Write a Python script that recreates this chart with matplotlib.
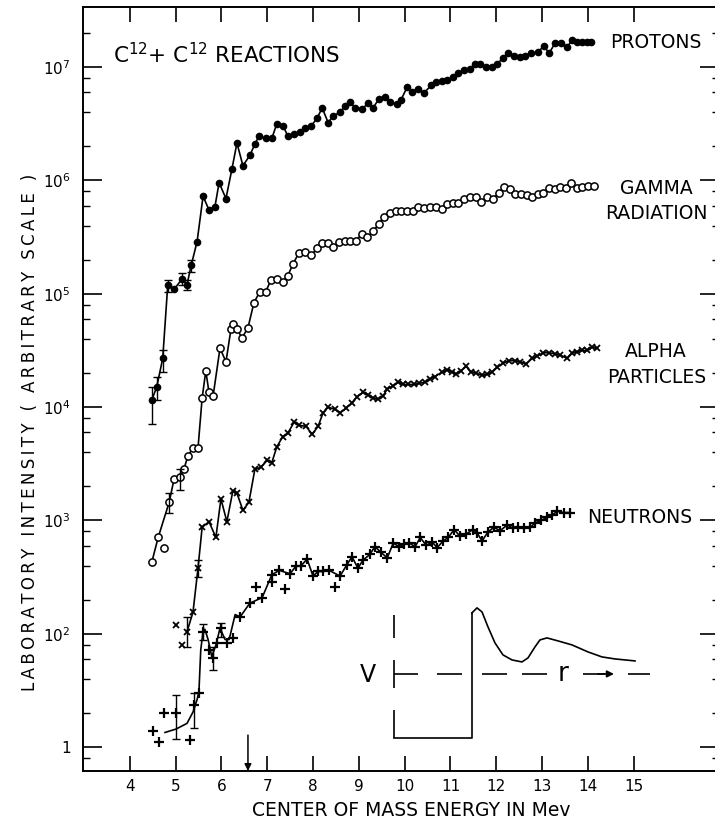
import numpy as np
import matplotlib.pyplot as plt
from matplotlib.ticker import LogLocator, FixedLocator, FixedFormatter, NullFormatter

plt.rcParams['font.family'] = ['DejaVu Sans']
plt.rcParams['mathtext.default'] = 'regular'

# centre of mass energy (MeV) and log10 of the laboratory intensity
protons_e = [4.48, 4.59, 4.72, 4.83, 4.97, 5.14, 5.25, 5.34, 5.47, 5.60, 5.73, 5.86, 5.95, 6.10,
             6.23, 6.34, 6.47, 6.62, 6.73, 6.82, 6.97, 7.10, 7.21, 7.35, 7.45, 7.59, 7.72, 7.83,
             7.96, 8.09, 8.20, 8.33, 8.44, 8.59, 8.70, 8.81, 8.92, 9.07, 9.20, 9.31, 9.44, 9.57,
             9.68, 9.83, 9.92, 10.05, 10.16, 10.29, 10.42, 10.58, 10.69, 10.82, 10.93, 11.06,
             11.17, 11.30, 11.43, 11.54, 11.65, 11.78, 11.91, 12.02, 12.15, 12.26, 12.39, 12.52,
             12.63, 12.76, 12.91, 13.04, 13.15, 13.28, 13.41, 13.55, 13.66, 13.76, 13.87, 13.98, 14.07]
protons_log = [4.06, 4.18, 4.43, 5.08, 5.04, 5.13, 5.08, 5.25, 5.46, 5.86, 5.74, 5.77, 5.98, 5.84,
               6.10, 6.33, 6.13, 6.22, 6.32, 6.39, 6.37, 6.37, 6.50, 6.48, 6.39, 6.41, 6.43, 6.46,
               6.48, 6.55, 6.64, 6.51, 6.57, 6.60, 6.66, 6.69, 6.64, 6.63, 6.68, 6.64, 6.72, 6.74,
               6.69, 6.67, 6.71, 6.82, 6.78, 6.81, 6.77, 6.84, 6.87, 6.88, 6.89, 6.91,
               6.95, 6.97, 6.98, 7.03, 7.03, 7.00, 7.00, 7.03, 7.08, 7.12, 7.10, 7.09,
               7.10, 7.12, 7.13, 7.19, 7.12, 7.21, 7.21, 7.18, 7.24, 7.22, 7.22, 7.22, 7.22]
protons_err_e = [4.48, 4.59, 4.72, 4.83, 5.14, 5.25, 5.34]
protons_err_lo = [3.85, 4.06, 4.31, 5.02, 5.08, 5.03, 5.19]
protons_err_hi = [4.18, 4.27, 4.50, 5.12, 5.18, 5.12, 5.30]

gamma_e = [4.48, 4.62, 4.75, 4.86, 4.97, 5.10, 5.18, 5.27, 5.38, 5.49, 5.58, 5.66, 5.73, 5.82,
           5.97, 6.10, 6.21, 6.25, 6.34, 6.45, 6.58, 6.71, 6.84, 6.97, 7.08, 7.21, 7.34, 7.45,
           7.56, 7.69, 7.83, 7.96, 8.09, 8.20, 8.33, 8.44, 8.57, 8.70, 8.81, 8.94, 9.07, 9.18,
           9.31, 9.44, 9.55, 9.68, 9.81, 9.92, 10.05, 10.18, 10.29, 10.42, 10.55, 10.69, 10.82,
           10.93, 11.06, 11.17, 11.30, 11.43, 11.56, 11.67, 11.80, 11.93, 12.06, 12.17, 12.30,
           12.41, 12.54, 12.67, 12.78, 12.91, 13.02, 13.15, 13.28, 13.39, 13.52, 13.63, 13.76,
           13.87, 14.00, 14.14]
gamma_log = [2.63, 2.85, 2.76, 3.16, 3.37, 3.38, 3.45, 3.57, 3.64, 3.64, 4.08, 4.32, 4.13, 4.10,
             4.52, 4.40, 4.69, 4.73, 4.69, 4.61, 4.70, 4.92, 5.02, 5.02, 5.12, 5.13, 5.10, 5.16,
             5.26, 5.36, 5.37, 5.34, 5.40, 5.45, 5.45, 5.41, 5.46, 5.47, 5.47, 5.47, 5.53, 5.50,
             5.55, 5.62, 5.68, 5.71, 5.73, 5.73, 5.73, 5.73, 5.77, 5.76, 5.77, 5.77, 5.75,
             5.79, 5.80, 5.80, 5.84, 5.85, 5.85, 5.81, 5.85, 5.84, 5.89, 5.94, 5.92,
             5.88, 5.88, 5.87, 5.85, 5.88, 5.89, 5.93, 5.92, 5.94, 5.93, 5.98, 5.93,
             5.94, 5.95, 5.95]
gamma_skip = [2]  # points the hand-drawn line passes by
gamma_err_e = [4.86, 5.10]
gamma_err_lo = [3.07, 3.27]
gamma_err_hi = [3.24, 3.45]

alpha_e = [5.01, 5.14, 5.25, 5.38, 5.49, 5.58, 5.73, 5.88, 5.99, 6.12, 6.25, 6.34, 6.47, 6.60,
           6.73, 6.86, 7.00, 7.10, 7.21, 7.34, 7.45, 7.59, 7.69, 7.85, 7.98, 8.11, 8.22, 8.33,
           8.48, 8.59, 8.72, 8.85, 8.96, 9.09, 9.20, 9.31, 9.42, 9.53, 9.62, 9.75, 9.86, 9.97,
           10.07, 10.21, 10.31, 10.45, 10.55, 10.66, 10.82, 10.93, 11.03, 11.12, 11.23, 11.34,
           11.45, 11.56, 11.69, 11.80, 11.91, 12.02, 12.15, 12.28, 12.41, 12.52, 12.65, 12.78,
           12.89, 13.02, 13.15, 13.28, 13.39, 13.55, 13.66, 13.76, 13.87, 13.98, 14.09, 14.20]
alpha_log = [2.08, 1.90, 2.02, 2.19, 2.58, 2.94, 2.99, 2.85, 3.19, 2.99, 3.26, 3.24, 3.09, 3.16,
             3.45, 3.47, 3.53, 3.51, 3.65, 3.74, 3.77, 3.87, 3.84, 3.83, 3.76, 3.83, 3.95, 4.00,
             3.98, 3.95, 3.99, 4.04, 4.09, 4.13, 4.11, 4.08, 4.07, 4.10, 4.16, 4.19, 4.22, 4.20,
             4.20, 4.20, 4.21, 4.22, 4.25, 4.27, 4.31, 4.33, 4.31, 4.29, 4.32, 4.36,
             4.31, 4.30, 4.28, 4.29, 4.31, 4.35, 4.39, 4.41, 4.41, 4.40, 4.38, 4.43,
             4.45, 4.48, 4.48, 4.47, 4.46, 4.43, 4.48, 4.49, 4.50, 4.50, 4.53, 4.52]
alpha_skip = [0, 1]
alpha_err_e = [5.25, 5.49]
alpha_err_lo = [1.88, 2.50]
alpha_err_hi = [2.15, 2.65]

neutron_e = [4.51, 4.64, 4.75, 5.01, 5.31, 5.40, 5.51, 5.60, 5.73, 5.82, 5.90, 5.99, 6.12, 6.25,
             6.41, 6.62, 6.76, 6.89, 7.10, 7.10, 7.26, 7.39, 7.50, 7.63, 7.74, 7.87, 8.00, 8.11,
             8.22, 8.35, 8.48, 8.59, 8.74, 8.85, 8.98, 9.09, 9.24, 9.35, 9.48, 9.62, 9.75, 9.88,
             9.99, 10.10, 10.23, 10.34, 10.47, 10.60, 10.71, 10.84, 10.95, 11.08, 11.21, 11.34,
             11.49, 11.58, 11.69, 11.82, 11.95, 12.08, 12.24, 12.37, 12.48, 12.61, 12.74, 12.85,
             12.98, 13.11, 13.22, 13.33, 13.48, 13.61]
neutron_log = [1.14, 1.05, 1.30, 1.30, 1.06, 1.37, 1.48, 2.02, 1.86, 1.79, 1.92, 2.05, 1.92, 1.96,
               2.15, 2.27, 2.41, 2.32, 2.52, 2.46, 2.56, 2.40, 2.53, 2.60, 2.60, 2.66, 2.51, 2.55,
               2.55, 2.56, 2.41, 2.51, 2.61, 2.68, 2.58, 2.65, 2.70, 2.77, 2.72, 2.67, 2.80, 2.77,
               2.79, 2.80, 2.77, 2.85, 2.78, 2.81, 2.76, 2.82, 2.85, 2.92, 2.86, 2.88,
               2.92, 2.89, 2.82, 2.90, 2.94, 2.91, 2.96, 2.93, 2.94, 2.93, 2.94, 2.98,
               3.00, 3.03, 3.05, 3.08, 3.07, 3.07]
neutron_skip = [16, 19, 21, 30]
# smooth line drawn by hand through the low energy neutron points
neutron_fit_e = [4.77, 5.01, 5.25, 5.38, 5.47, 5.51, 5.55, 5.60, 5.64, 5.71, 5.79, 5.88, 5.97,
                 6.08, 6.17, 6.30, 6.41]
neutron_fit_log = [1.13, 1.16, 1.21, 1.31, 1.42, 1.49, 1.86, 2.02, 2.04, 1.95, 1.80, 1.90, 2.05,
                   1.95, 1.95, 2.17, 2.15]
neutron_err_e = [5.01, 5.40, 5.60, 5.82, 5.99]
neutron_err_lo = [1.07, 1.17, 1.95, 1.68, 1.97]
neutron_err_hi = [1.46, 1.48, 2.09, 1.88, 2.10]

arrow_e = 6.58
x_ticks = list(range(4, 16))
y_ticks = [1e1, 1e2, 1e3, 1e4, 1e5, 1e6, 1e7]
y_tick_labels = ['1', '$10^2$', '$10^3$', '$10^4$', '$10^5$', '$10^6$', '$10^7$']

# inset sketch of the potential V(r), in sketch units
well_u = [34, 112, 112]
well_v = [7, 7, 132]
barrier_u = [112, 117, 122, 128, 135, 143, 152, 162, 168, 175, 180, 187, 198, 212, 228, 242, 255, 275]
barrier_v = [132, 137, 133, 118, 102, 90, 85, 83, 87, 98, 105, 107, 104, 100, 93, 88, 86, 84]


def lin(v):
    return 10 ** np.asarray(v, dtype=float)


def keep(seq, skip):
    return [s for i, s in enumerate(seq) if i not in skip]


def spaced(s):
    # old lettering has wide letter spacing
    return '\u2009'.join(s)


fig = plt.figure(figsize=(7.15, 8.23), dpi=100)
ax = fig.add_axes([83 / 715, 1 - 771 / 823, 636 / 715, 764 / 823])
ax.set_yscale('log')
ax.set_xlim(2.98, 16.86)
ax.set_ylim(10 ** 0.79, 10 ** 7.53)

lw = 1.2
mk = dict(ls='none', color='k')

# protons
ax.plot(protons_e, lin(protons_log), '-', color='k', lw=lw)
ax.plot(protons_e, lin(protons_log), marker='o', ms=4.5, mfc='k', mec='k', **mk)

# gamma radiation
ax.plot(keep(gamma_e, gamma_skip), lin(keep(gamma_log, gamma_skip)), '-', color='k', lw=lw)
ax.plot(gamma_e, lin(gamma_log), marker='o', ms=5.2, mfc='white', mec='k', mew=1.1, **mk)

# alpha particles
ax.plot(keep(alpha_e, alpha_skip), lin(keep(alpha_log, alpha_skip)), '-', color='k', lw=lw)
ax.plot(alpha_e, lin(alpha_log), marker='x', ms=5, mew=1.3, **mk)

# neutrons
n_e = neutron_fit_e + [e for i, e in enumerate(neutron_e) if e > 6.5 and i not in neutron_skip]
n_l = neutron_fit_log + [v for i, v in enumerate(neutron_log)
                         if neutron_e[i] > 6.5 and i not in neutron_skip]
ax.plot(n_e, lin(n_l), '-', color='k', lw=lw)
ax.plot(neutron_e, lin(neutron_log), marker='+', ms=7, mew=1.6, **mk)

# error bars
for ee, lo, hi in [(protons_err_e, protons_err_lo, protons_err_hi),
                   (gamma_err_e, gamma_err_lo, gamma_err_hi),
                   (alpha_err_e, alpha_err_lo, alpha_err_hi),
                   (neutron_err_e, neutron_err_lo, neutron_err_hi)]:
    lo_v = lin(lo)
    hi_v = lin(hi)
    ax.errorbar(ee, lo_v, yerr=[np.zeros(len(ee)), hi_v - lo_v], fmt='none',
                ecolor='k', elinewidth=1.0, capsize=3, capthick=1.0)

# axes styling
ax.xaxis.set_major_locator(FixedLocator(x_ticks))
ax.yaxis.set_major_locator(FixedLocator(y_ticks))
ax.yaxis.set_major_formatter(FixedFormatter(y_tick_labels))
ax.yaxis.set_minor_locator(LogLocator(base=10, subs=[2, 4, 6, 8]))
ax.yaxis.set_minor_formatter(NullFormatter())
ax.tick_params(axis='x', which='major', direction='in', length=11, width=1.2,
               top=True, labelsize=11, pad=6)
ax.tick_params(axis='y', which='major', direction='in', length=14, width=1.2,
               right=True, labelsize=11, pad=9)
ax.tick_params(axis='y', which='minor', direction='in', length=5, width=1.0, right=True)
for sp in ax.spines.values():
    sp.set_linewidth(1.4)

# series labels
lab = dict(fontsize=13.5, ha='center', va='center', color='k')
ax.text(15.49, 10 ** 7.22, 'PROTONS', **lab)
ax.text(15.49, 10 ** 5.93, 'GAMMA', **lab)
ax.text(15.49, 10 ** 5.71, 'RADIATION', **lab)
ax.text(15.49, 10 ** 4.49, 'ALPHA', **lab)
ax.text(15.49, 10 ** 4.26, 'PARTICLES', **lab)
ax.text(15.12, 10 ** 3.03, 'NEUTRONS', **lab)
ax.text(3.63, 10 ** 7.11, 'C$^{12}$+ C$^{12}$ REACTIONS', fontsize=15.5, ha='left', va='center')

fig.text(30 / 715, 1 - 432 / 823, spaced('LABORATORY INTENSITY ( ARBITRARY SCALE )'),
         rotation=90, ha='center', va='center', fontsize=12)
fig.text(411 / 715, 1 - 811 / 823, 'CENTER OF MASS ENERGY IN Mev',
         ha='center', va='center', fontsize=13.5)

# marker arrow on the energy axis
ax.annotate('', xy=(arrow_e, 0.0), xycoords=('data', 'axes fraction'),
            xytext=(arrow_e, 0.047), textcoords=('data', 'axes fraction'),
            arrowprops=dict(arrowstyle='-|>', color='k', lw=1.1, mutation_scale=10,
                            shrinkA=0, shrinkB=0))

# inset: nuclear potential sketch
ins = ax.inset_axes([0.4355, 0.034, 0.4717, 0.19])
ins.set_xlim(0, 300)
ins.set_ylim(0, 145)
ins.axis('off')
ins.plot(well_u, well_v, color='k', lw=1.2)
ins.plot(barrier_u, barrier_v, color='k', lw=1.2)
ins.vlines([34, 34, 34], [107, 57, 7], [130, 85, 35], color='k', lw=1.2)
ins.hlines([71] * 6, [34, 77, 122, 162, 223, 268], [58, 102, 147, 187, 245, 290], color='k', lw=1.2)
ins.annotate('', xy=(254, 71), xytext=(238, 71),
             arrowprops=dict(arrowstyle='-|>', color='k', lw=1.2, mutation_scale=10,
                             shrinkA=0, shrinkB=0))
ins.text(8, 70, 'V', fontsize=17, ha='center', va='center')
ins.text(203, 71, 'r', fontsize=19, ha='center', va='center')

fig.savefig('out.png', dpi=100)
